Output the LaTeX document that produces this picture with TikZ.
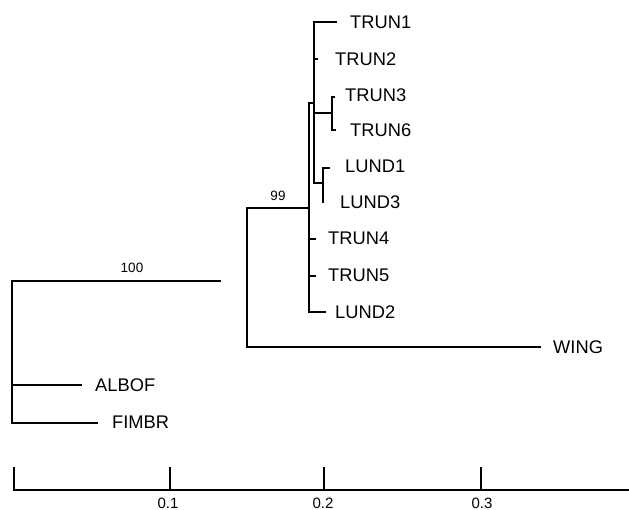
\documentclass[tikz,border=0pt]{standalone}
\usepackage{fontspec}
\setmainfont{Liberation Sans}
\begin{document}
\begin{tikzpicture}[x=1pt,y=-1pt,
  br/.style={line width=1.3pt,line cap=rect},
  leaf/.style={anchor=west,inner sep=0pt,font=\fontsize{18.3}{21}\selectfont},
  boot/.style={inner sep=0pt,font=\fontsize{13.5}{15}\selectfont},
  ticklab/.style={inner sep=0pt,font=\fontsize{15}{17}\selectfont}]
\useasboundingbox (0,0) rectangle (629,510);
% internal coordinates
\coordinate (r1) at (12,281);
\coordinate (r2) at (12,385);
\coordinate (r3) at (12,423);
\coordinate (e100) at (220,281);
\coordinate (n99t) at (247,208);
\coordinate (n99b) at (247,347);
\coordinate (a1) at (309,103);
\coordinate (a2) at (309,208);
\coordinate (a3) at (309,239);
\coordinate (a4) at (309,276);
\coordinate (a5) at (309,312);
\coordinate (b1) at (314,22);
\coordinate (b2) at (314,59);
\coordinate (b3) at (314,103);
\coordinate (b4) at (314,113);
\coordinate (b5) at (314,183);
\coordinate (c1) at (332,97);
\coordinate (c2) at (332,113);
\coordinate (c3) at (332,130);
\coordinate (d1) at (323,168);
\coordinate (d2) at (323,183);
\coordinate (d3) at (323,202);
% leaf ends
\coordinate (tTRUN1) at (336,22);
\coordinate (tTRUN2) at (317,59);
\coordinate (tTRUN3) at (334,97);
\coordinate (tTRUN6) at (335,130);
\coordinate (tLUND1) at (329,168);
\coordinate (tTRUN4) at (315,239);
\coordinate (tTRUN5) at (315,276);
\coordinate (tLUND2) at (325,312);
\coordinate (tWING) at (540,347);
\coordinate (tALBOF) at (81,385);
\coordinate (tFIMBR) at (97,423);
% labels
\node[leaf] (TRUN1) at (350,22) {TRUN1};
\node[leaf] (TRUN2) at (335,59) {TRUN2};
\node[leaf] (TRUN3) at (345,95) {TRUN3};
\node[leaf] (TRUN6) at (350,130) {TRUN6};
\node[leaf] (LUND1) at (345,166) {LUND1};
\node[leaf] (LUND3) at (340,202) {LUND3};
\node[leaf] (TRUN4) at (328,238) {TRUN4};
\node[leaf] (TRUN5) at (328,275) {TRUN5};
\node[leaf] (LUND2) at (335,312) {LUND2};
\node[leaf] (WING) at (553,347) {WING};
\node[leaf] (ALBOF) at (95,385) {ALBOF};
\node[leaf] (FIMBR) at (112,422) {FIMBR};
\node[boot] (b100) at (132,268) {100};
\node[boot] (b99) at (278,196) {99};
% tree
\draw[br] (r1) -- (r3);
\draw[br] (r1) -- (e100);
\draw[br] (r2) -- (tALBOF);
\draw[br] (r3) -- (tFIMBR);
\draw[br] (n99t) -- (n99b);
\draw[br] (n99t) -- (a2);
\draw[br] (n99b) -- (tWING);
\draw[br] (a1) -- (a5);
\draw[br] (a3) -- (tTRUN4);
\draw[br] (a4) -- (tTRUN5);
\draw[br] (a5) -- (tLUND2);
\draw[br] (a1) -- (b3);
\draw[br] (b1) -- (b5);
\draw[br] (b1) -- (tTRUN1);
\draw[br] (b2) -- (tTRUN2);
\draw[br] (b4) -- (c2);
\draw[br] (c1) -- (c3);
\draw[br] (c1) -- (tTRUN3);
\draw[br] (c3) -- (tTRUN6);
\draw[br] (b5) -- (d2);
\draw[br] (d1) -- (d3);
\draw[br] (d1) -- (tLUND1);
% scale axis
\coordinate (ax0) at (14,490);
\coordinate (ax1) at (170,490);
\coordinate (ax2) at (324,490);
\coordinate (ax3) at (481,490);
\coordinate (axe) at (629,490);
\coordinate (tk0) at (14,468);
\coordinate (tk1) at (170,468);
\coordinate (tk2) at (324,468);
\coordinate (tk3) at (481,468);
\draw[br,line cap=butt] (ax0) -- (axe);
\draw[br] (ax0) -- (tk0);
\draw[br] (ax1) -- (tk1);
\draw[br] (ax2) -- (tk2);
\draw[br] (ax3) -- (tk3);
\node[ticklab] (l1) at (168,503) {0.1};
\node[ticklab] (l2) at (323,503) {0.2};
\node[ticklab] (l3) at (482,503) {0.3};
\end{tikzpicture}
\end{document}
